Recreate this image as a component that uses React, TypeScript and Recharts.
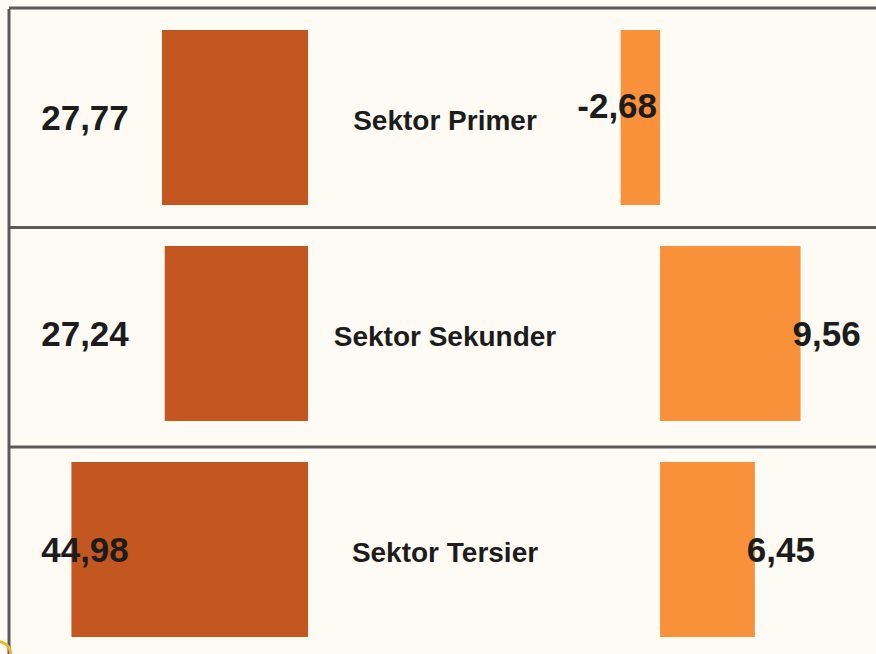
import { Bar, BarChart, CartesianGrid, LabelList, XAxis, YAxis } from "recharts";

const sektor = ["Sektor Primer", "Sektor Sekunder", "Sektor Tersier"];
const nilaiKiri = [27.77, 27.24, 44.98];
const nilaiKanan = [-2.68, 9.56, 6.45];

const rows = sektor.map((s, i) => ({ sektor: s, kiri: nilaiKiri[i], kanan: nilaiKanan[i] }));

const CHART_W = 876;
const CHART_H = 660;
const FONT = "'Liberation Sans', Arial, sans-serif";
const TEXT = "#1c1c1c";

function fmt(v: number) {
  return v.toFixed(2).replace(".", ",");
}

// left numbers sit in a fixed column at the far left, not tied to bar ends
function LeftValue(props: any) {
  const { y, height, value } = props;
  return (
    <text x={85} y={y + height / 2 + 12} textAnchor="middle" fontFamily={FONT} fontWeight={700} fontSize={35} fill={TEXT}>
      {fmt(Number(value))}
    </text>
  );
}

function SectorName(props: any) {
  const { y, height, value } = props;
  return (
    <text x={445} y={y + height / 2 + 12} textAnchor="middle" fontFamily={FONT} fontWeight={700} fontSize={28} fill={TEXT}>
      {value}
    </text>
  );
}

function RightValue(props: any) {
  const { x, y, width, height, value } = props;
  const v = Number(value);
  const a = Math.min(x, x + width);
  const b = Math.max(x, x + width);
  const neg = v < 0;
  return (
    <text
      x={neg ? b - 3 : b - 8}
      y={y + height / 2 + (neg ? 0 : 12)}
      textAnchor={neg ? "end" : "start"}
      fontFamily={FONT}
      fontWeight={700}
      fontSize={35}
      fill={TEXT}
    >
      {fmt(v)}
    </text>
  );
}

export default function App() {
  return (
    <div
      style={{
        position: "fixed",
        left: 0,
        top: 0,
        width: CHART_W,
        height: CHART_H,
        background: "#FEFBF5",
        overflow: "hidden",
      }}
    >
      <BarChart
        width={CHART_W}
        height={CHART_H}
        data={rows}
        layout="vertical"
        margin={{ top: 9, right: 0, bottom: 3, left: 9 }}
      >
        <CartesianGrid
          xAxisId="kiri"
          yAxisId="kiri"
          stroke="#5a5a5a"
          strokeWidth={3}
          horizontalCoordinatesGenerator={({ offset }: any) => {
            const band = offset.height / sektor.length;
            // dividers sit a little below the band edges in the source
            return sektor.map((_, i) => offset.top - 1 + i * (band + 3.5));
          }}
          verticalCoordinatesGenerator={({ offset }: any) => [offset.left]}
        />
        <XAxis xAxisId="kiri" type="number" domain={[-107.98, 56.85]} reversed hide allowDataOverflow />
        <XAxis xAxisId="kanan" type="number" domain={[-44.29, 14.69]} hide allowDataOverflow />
        <YAxis yAxisId="kiri" type="category" dataKey="sektor" hide />
        <YAxis yAxisId="kanan" type="category" dataKey="sektor" hide />
        <Bar xAxisId="kiri" yAxisId="kiri" dataKey="kiri" fill="#C4561F" barSize={175} isAnimationActive={false}>
          <LabelList dataKey="kiri" content={LeftValue} />
          <LabelList dataKey="sektor" content={SectorName} />
        </Bar>
        <Bar xAxisId="kanan" yAxisId="kanan" dataKey="kanan" fill="#F8913A" barSize={175} isAnimationActive={false}>
          <LabelList dataKey="kanan" content={RightValue} />
        </Bar>
      </BarChart>
      <div
        style={{
          position: "absolute",
          left: -16,
          top: 640,
          width: 22,
          height: 22,
          border: "3px solid #EDB22E",
          borderRadius: "50%",
        }}
      />
    </div>
  );
}
